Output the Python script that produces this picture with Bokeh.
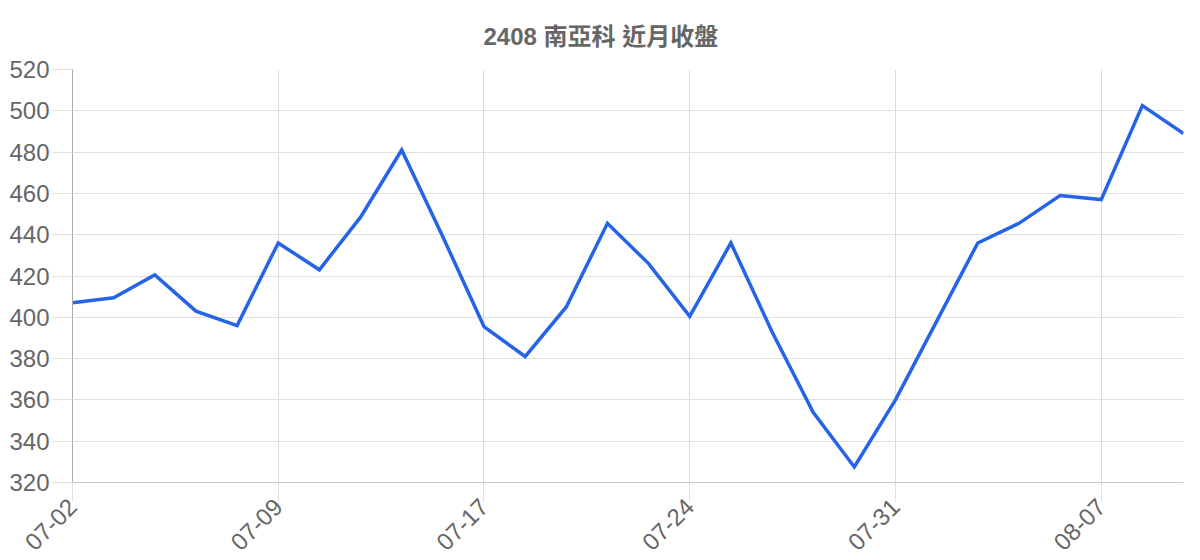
import math
from bokeh.plotting import figure
from bokeh.models import FixedTicker, Range1d, ColumnDataSource
from bokeh.embed import file_html
from bokeh.resources import INLINE

title_text = "2408 南亞科 近月收盤"
dates = ["07-02", "07-03", "07-04", "07-07", "07-08", "07-09", "07-10", "07-11",
         "07-14", "07-15", "07-17", "07-18", "07-21", "07-22", "07-23", "07-24",
         "07-25", "07-28", "07-29", "07-30", "07-31", "08-01", "08-04", "08-05",
         "08-06", "08-07", "08-08", "08-11"]
closes = [407, 409.5, 420.5, 403, 396, 436, 423, 448.5, 481, 439, 395.5, 381,
          405, 445.5, 426, 400.5, 436, 393, 354, 327.5, 360, 398, 436, 445.5,
          459, 457, 502.5, 489]
y_ticks = [320, 340, 360, 380, 400, 420, 440, 460, 480, 500, 520]
label_every = 5

idx = list(range(len(dates)))
src = ColumnDataSource(dict(x=idx, y=closes, d=dates))
x_ticks = idx[::label_every]

FONT = "Liberation Sans, Noto Sans CJK TC, sans-serif"
GRID = "#e0e0e0"
TXT = "#666666"

W, H = 1200, 560
p = figure(width=W, height=H, output_backend="svg", toolbar_location=None,
           x_range=Range1d(0, len(dates) - 1), y_range=Range1d(320, 520),
           min_border_left=72, min_border_right=17, min_border_top=69, min_border_bottom=70)
p.outline_line_color = None

p.title.text = title_text
p.title.align = "left"
p.title.offset = 411
p.title.text_font = FONT
p.title.text_font_size = "24px"
p.title.text_font_style = "bold"
p.title.text_color = TXT
p.title.standoff = 40

p.line("x", "y", source=src, line_color="#2563eb", line_width=3.5, line_join="miter")

p.xaxis.ticker = FixedTicker(ticks=x_ticks)
p.xaxis.major_label_overrides = {i: dates[i] for i in x_ticks}
p.xaxis.major_label_orientation = math.pi / 4
p.xaxis.major_label_text_font = FONT
p.xaxis.major_label_text_font_size = "24px"
p.xaxis.major_label_text_color = TXT
p.xaxis.major_label_standoff = 1
p.xaxis.major_tick_out = 19
p.xaxis.major_tick_in = 0
p.xaxis.major_tick_line_color = GRID
p.xaxis.minor_tick_line_color = None
p.xaxis.axis_line_color = "#c8c8c8"

p.yaxis.ticker = FixedTicker(ticks=y_ticks)
p.yaxis.major_label_text_font = FONT
p.yaxis.major_label_text_font_size = "24px"
p.yaxis.major_label_text_color = TXT
p.yaxis.major_label_standoff = 3
p.yaxis.major_tick_out = 20
p.yaxis.major_tick_in = 0
p.yaxis.major_tick_line_color = GRID
p.yaxis.minor_tick_line_color = None
p.yaxis.axis_line_color = "#aaaaaa"

p.xgrid.ticker = FixedTicker(ticks=x_ticks)
p.ygrid.ticker = FixedTicker(ticks=y_ticks)
p.xgrid.grid_line_color = "#dadada"
p.ygrid.grid_line_color = GRID

open("out.html", "w").write(file_html(p, INLINE))
